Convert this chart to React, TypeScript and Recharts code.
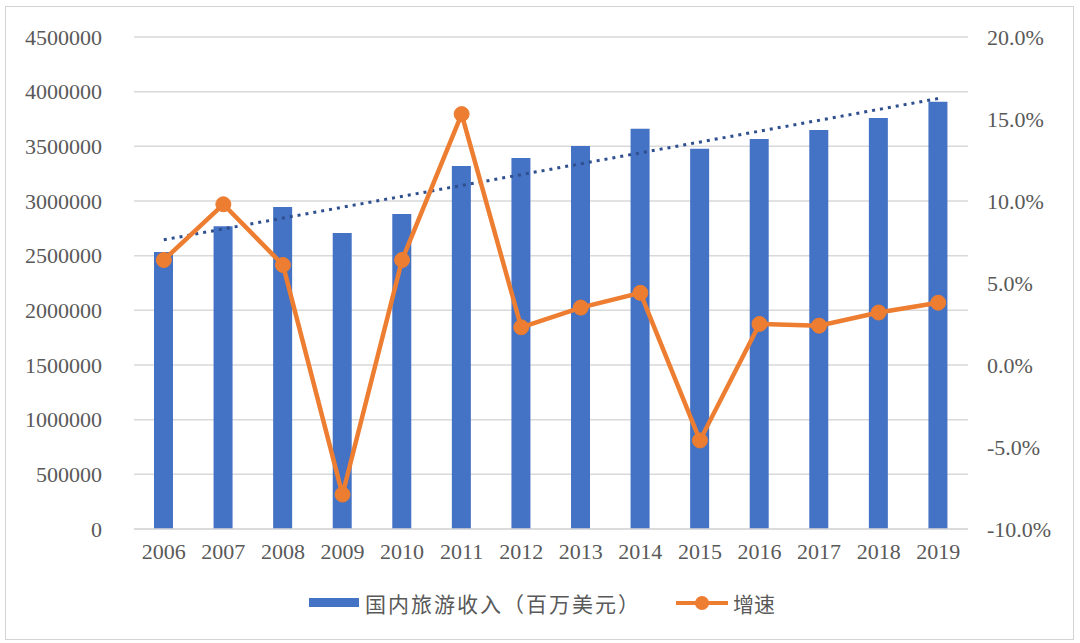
import React from 'react';
import {
  ComposedChart, Bar, Line, XAxis, YAxis, CartesianGrid, Legend,
} from 'recharts';

const years = ['2006', '2007', '2008', '2009', '2010', '2011', '2012', '2013', '2014', '2015', '2016', '2017', '2018', '2019'];
const revenue = [2534000, 2770000, 2946000, 2708000, 2880000, 3320000, 3394000, 3504000, 3660000, 3477000, 3568000, 3650000, 3760000, 3907000];
const growth = [6.4, 9.8, 6.1, -7.9, 6.4, 15.3, 2.3, 3.5, 4.4, -4.6, 2.5, 2.4, 3.2, 3.8];
const trend = [2645000, null, null, null, null, null, null, null, null, null, null, null, null, 3937000];
const leftTicks = [0, 500000, 1000000, 1500000, 2000000, 2500000, 3000000, 3500000, 4000000, 4500000];
const rightTicks = [-10, -5, 0, 5, 10, 15, 20];
const barName = '国内旅游收入（百万美元）';
const lineName = '增速';

const data = years.map((y, i) => ({
  year: y,
  revenue: revenue[i],
  growth: growth[i],
  trend: trend[i],
}));

const BLUE = '#4472C4';
const ORANGE = '#ED7D31';
const TEXT = '#595959';
const GRID = '#d9d9d9';
const tickFont = { fontFamily: '"Liberation Serif", "DejaVu Serif", serif', fontSize: 22, fill: TEXT };

const LegendContent = () => (
  <div style={{ position: 'relative', width: 1080, height: 64 }}>
    <div style={{ position: 'absolute', left: 309, top: 19, width: 50, height: 9, background: BLUE }} />
    <div style={{ position: 'absolute', left: 365, top: 9, lineHeight: '30px', fontSize: 21, letterSpacing: 2, color: TEXT, fontFamily: '"Noto Sans CJK SC", sans-serif', whiteSpace: 'nowrap' }}>{barName}</div>
    <svg style={{ position: 'absolute', left: 676, top: 14 }} width={52} height={20}>
      <line x1={0} y1={10} x2={52} y2={10} stroke={ORANGE} strokeWidth={4} />
      <circle cx={26} cy={10} r={7} fill={ORANGE} />
    </svg>
    <div style={{ position: 'absolute', left: 733, top: 9, lineHeight: '30px', fontSize: 21, color: TEXT, fontFamily: '"Noto Sans CJK SC", sans-serif', whiteSpace: 'nowrap' }}>{lineName}</div>
  </div>
);

export default function App() {
  return (
    <div style={{ position: 'absolute', left: 0, top: 0, width: 1080, height: 643, background: '#fff' }}>
      <div style={{ position: 'absolute', left: 5, top: 6, width: 1069, height: 634, border: '1px solid #d4d4d4', boxSizing: 'border-box' }} />
      <ComposedChart
        width={1080}
        height={643}
        data={data}
        margin={{ top: 37, right: 0, bottom: 0, left: 0 }}
        barCategoryGap="10%"
      >
        <CartesianGrid yAxisId="left" vertical={false} stroke={GRID} strokeWidth={1.5} />
        <XAxis
          dataKey="year"
          height={50}
          tickLine={false}
          tickSize={0}
          tickMargin={14}
          axisLine={{ stroke: GRID, strokeWidth: 1.5 }}
          tick={tickFont}
          interval={0}
        />
        <YAxis
          yAxisId="left"
          orientation="left"
          width={134}
          domain={[0, 4500000]}
          ticks={leftTicks}
          axisLine={false}
          tickLine={false}
          tickSize={0}
          tickMargin={32}
          tick={tickFont}
          interval={0}
        />
        <YAxis
          yAxisId="right"
          orientation="right"
          width={112}
          domain={[-10, 20]}
          ticks={rightTicks}
          axisLine={false}
          tickLine={false}
          tickSize={0}
          tickMargin={19}
          tick={tickFont}
          tickFormatter={(v: number) => `${v.toFixed(1)}%`}
          interval={0}
        />
        <Legend verticalAlign="bottom" height={64} content={() => <LegendContent />} />
        <Bar yAxisId="left" dataKey="revenue" name={barName} fill={BLUE} barSize={19} isAnimationActive={false} />
        <Line
          yAxisId="left"
          dataKey="trend"
          stroke="#2F4F8F"
          strokeWidth={3}
          strokeDasharray="3 5"
          dot={false}
          activeDot={false}
          connectNulls
          legendType="none"
          isAnimationActive={false}
        />
        <Line
          yAxisId="right"
          dataKey="growth"
          name={lineName}
          stroke={ORANGE}
          strokeWidth={4.5}
          dot={{ r: 7.5, fill: ORANGE, stroke: ORANGE, strokeWidth: 1 }}
          activeDot={false}
          isAnimationActive={false}
        />
      </ComposedChart>
    </div>
  );
}
